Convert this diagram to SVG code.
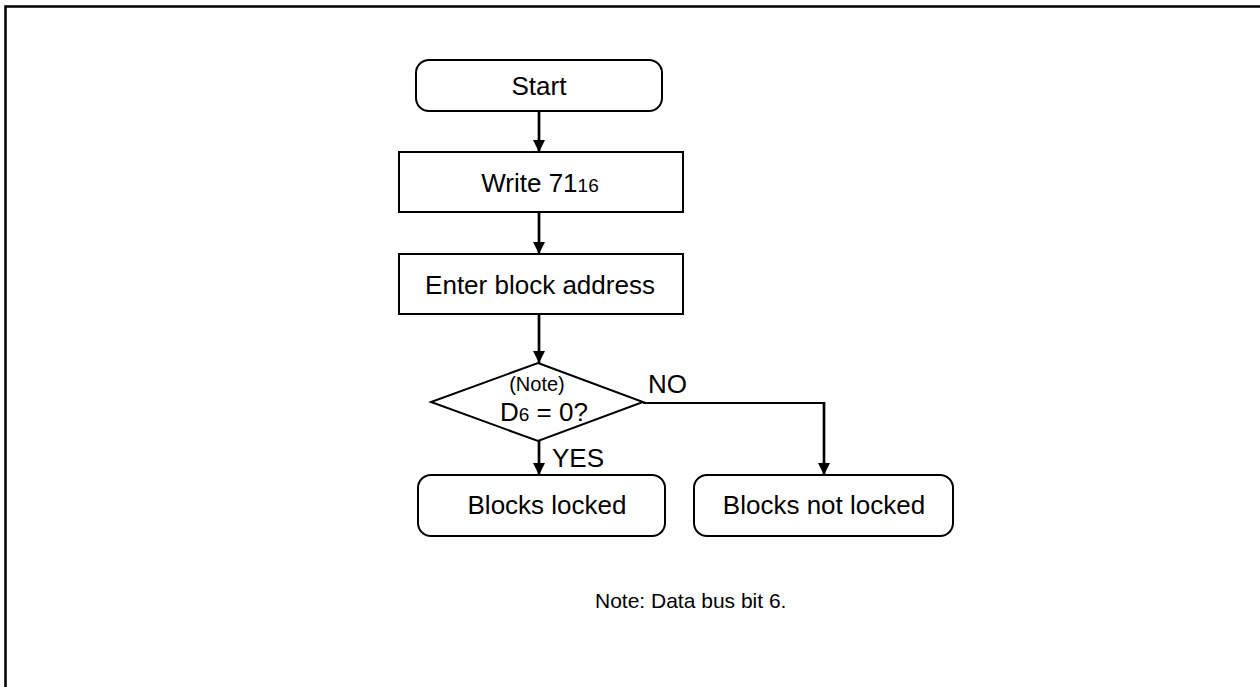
<svg xmlns="http://www.w3.org/2000/svg" width="1260" height="687" viewBox="0 0 1260 687">
<style>
.box{fill:#fff;stroke:#000;stroke-width:2}
.t{font-family:"Liberation Sans",Arial,sans-serif;font-size:26px;fill:#000}
.s{font-size:19px}
.n{font-size:20px}
.nt{font-size:21px}
.c{stroke:#000;stroke-width:2.7;fill:none}
.c2{stroke:#000;stroke-width:1.8;fill:none}
</style>
<defs>
<marker id="ah" viewBox="0 0 12 12" refX="12" refY="6" markerWidth="12" markerHeight="12" markerUnits="userSpaceOnUse" orient="auto">
<path d="M0,0 L12,6 L0,12 Z" fill="#000"/>
</marker>
</defs>
<rect x="0" y="0" width="1260" height="687" fill="#fff"/>
<rect x="5.5" y="6.5" width="1400" height="900" fill="none" stroke="#000" stroke-width="2.5"/>
<g id="connectors">
<line class="c" x1="539" y1="111" x2="539" y2="152" marker-end="url(#ah)"/>
<line class="c" x1="539" y1="212" x2="539" y2="254" marker-end="url(#ah)"/>
<line class="c" x1="539" y1="314" x2="539" y2="363" marker-end="url(#ah)"/>
<line class="c" x1="539" y1="441" x2="539" y2="475" marker-end="url(#ah)"/>
<polyline class="c2" points="643,403 824,403"/>
<line class="c" x1="824" y1="402" x2="824" y2="475" marker-end="url(#ah)"/>
<text class="t" x="648" y="393">NO</text>
<text class="t" x="552" y="467">YES</text>
</g>
<g id="start">
<rect class="box" x="416" y="60" width="246" height="51" rx="13"/>
<text class="t" x="539" y="95" text-anchor="middle">Start</text>
</g>
<g id="write">
<rect class="box" x="399" y="152" width="284" height="60"/>
<text class="t" x="540" y="192" text-anchor="middle">Write 71<tspan class="s">16</tspan></text>
</g>
<g id="enter">
<rect class="box" x="399" y="254" width="284" height="60"/>
<text class="t" x="540" y="294" text-anchor="middle">Enter block address</text>
</g>
<g id="decision">
<polygon class="box" points="538,363 643,402 538,441 431,402"/>
<text class="t n" x="537" y="391" text-anchor="middle">(Note)</text>
<text class="t" x="544" y="421" text-anchor="middle">D<tspan class="s">6</tspan> = 0?</text>
</g>
<g id="locked">
<rect class="box" x="418" y="475" width="247" height="61" rx="13"/>
<text class="t" x="547" y="514" text-anchor="middle">Blocks locked</text>
</g>
<g id="notlocked">
<rect class="box" x="694" y="475" width="259" height="61" rx="13"/>
<text class="t" x="824" y="514" text-anchor="middle">Blocks not locked</text>
</g>
<g id="note">
<text class="t nt" x="595" y="608">Note: Data bus bit 6.</text>
</g>
</svg>
